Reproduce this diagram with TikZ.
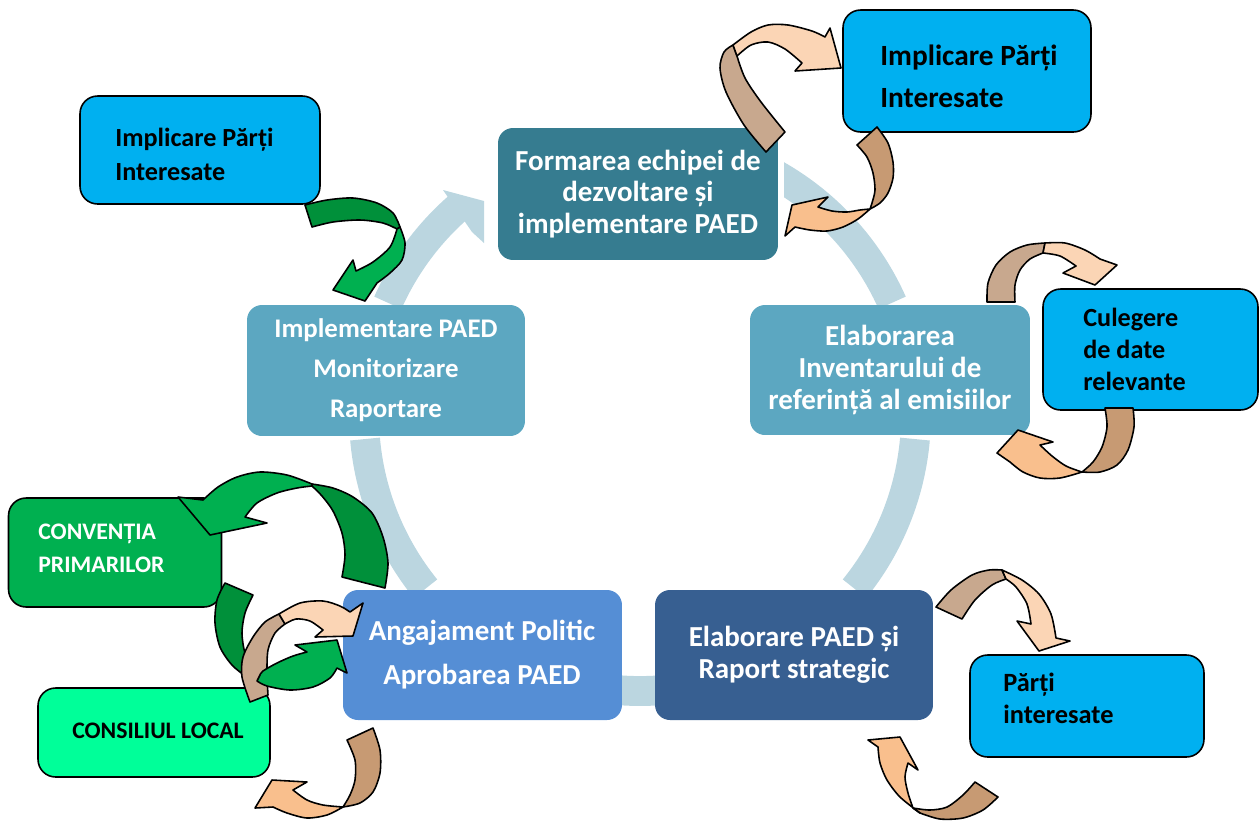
\documentclass[tikz,border=0pt]{standalone}
\usepackage{fontspec}
\setmainfont{Carlito}
\definecolor{ringc}{HTML}{BBD6E0}
\definecolor{cForm}{HTML}{367C90}
\definecolor{cInv}{HTML}{5CA7C1}
\definecolor{cPAED}{HTML}{375F91}
\definecolor{cAng}{HTML}{558ED5}
\definecolor{cSky}{HTML}{00B0F0}
\definecolor{cConv}{HTML}{00B050}
\definecolor{cCons}{HTML}{00FF99}
\definecolor{tanB}{HTML}{C8A88E}
\definecolor{peachF}{HTML}{FBD5B5}
\definecolor{brownB}{HTML}{C79A73}
\definecolor{orangeF}{HTML}{F9BF8D}
\definecolor{gDark}{HTML}{00903A}
\definecolor{gLight}{HTML}{00B050}
\tikzset{
  mbox/.style={rounded corners=8.5pt, inner sep=0pt, draw=none},
  sbox/.style={rounded corners=10pt, inner sep=0pt, draw=black, line width=0.9pt},
  mtext/.style={inner sep=0pt, text=white, align=center},
  stext/.style={inner sep=0pt, text=black, align=left, anchor=west},
  ringseg/.style={draw=ringc, line width=17pt},
  arrline/.style={draw=black, line width=0.9pt, line join=round},
}
\newcommand{\fs}[2]{\fontsize{#1pt}{#2pt}\selectfont\bfseries}
\begin{document}
\begin{tikzpicture}[x=0.02cm, y=-0.02cm]
\useasboundingbox (0,0) rectangle (1259,823);
% ---- ring ----
\coordinate (cc) at (640,415);
\draw[ringseg] (cc) ++(-156:276) arc[start angle=-156, end angle=-131, radius=276];
\fill[ringc] (443,190) -- (484,201) -- (484,243) -- (472,232) -- cycle;
\begin{scope}
\clip (784,0) rectangle (1259,823);
\draw[ringseg] (cc) ++(-66:276) arc[start angle=-66, end angle=-24, radius=276];
\end{scope}
\draw[ringseg] (cc) ++(5:276) arc[start angle=5, end angle=39, radius=276];
\draw[ringseg] (cc) ++(80:276) arc[start angle=80, end angle=100, radius=276];
\draw[ringseg] (cc) ++(141:276) arc[start angle=141, end angle=175, radius=276];
% ---- main boxes ----
\node[mbox, fill=cForm, minimum width=5.6cm, minimum height=2.64cm] (form) at (638,194) {};
\node[mbox, fill=cInv, minimum width=5.6cm, minimum height=2.6cm] (inv) at (890,370) {};
\node[mbox, fill=cPAED, minimum width=5.56cm, minimum height=2.6cm] (paed) at (794,655) {};
\node[mbox, fill=cAng, minimum width=5.58cm, minimum height=2.6cm] (ang) at (482.5,655) {};
\node[mbox, fill=cInv, minimum width=5.56cm, minimum height=2.62cm] (impl) at (386,370.5) {};
\node[mtext, font=\fs{16.5}{18}] (formT) at (638,194) {Formarea echipei de\\dezvoltare și\\implementare PAED};
\node[mtext, font=\fs{16.5}{18}] (invT) at (890,370) {Elaborarea\\Inventarului de\\referință al emisiilor};
\node[mtext, font=\fs{15.3}{22.7}] (implT) at (386,370) {Implementare PAED\\Monitorizare\\Raportare};
\node[mtext, font=\fs{16.5}{18}] (paedT) at (794,655) {Elaborare PAED și\\Raport strategic};
\node[mtext, font=\fs{16.5}{25}] (angT) at (482,655) {Angajament Politic\\Aprobarea PAED};
% ---- side boxes ----
\node[sbox, fill=cSky, minimum width=4.96cm, minimum height=2.44cm] (itr) at (967,71) {};
\node[sbox, fill=cSky, minimum width=4.8cm, minimum height=2.16cm] (itl) at (200,150) {};
\node[sbox, fill=cSky, minimum width=4.3cm, minimum height=2.42cm] (cul) at (1150.5,349.5) {};
\node[sbox, fill=cSky, minimum width=4.68cm, minimum height=2.04cm] (part) at (1087,706) {};
\node[sbox, fill=cConv, minimum width=4.26cm, minimum height=2.18cm] (conv) at (115,552.5) {};
\node[sbox, fill=cCons, minimum width=4.64cm, minimum height=1.78cm] (cons) at (154,732.5) {};
\node[stext, font=\fs{16.7}{23.8}] (itrT) at (880,76) {Implicare Părți\\Interesate};
\node[stext, font=\fs{14.9}{19.8}] (itlT) at (115,154.5) {Implicare Părți\\Interesate};
\node[stext, font=\fs{14.9}{18.4}] (culT) at (1083,349.5) {Culegere\\de date\\relevante};
\node[stext, font=\fs{15}{18}] (partT) at (1003,698.5) {Părți\\interesate};
\node[stext, font=\fs{13.5}{18.7}, text=white] (convT) at (38,548.5) {CONVENȚIA\\PRIMARILOR};
\node[mtext, font=\fs{13.5}{16}, text=black] (consT) at (158,731) {CONSILIUL LOCAL};
% ---- curved arrows ----
% A1
\filldraw[arrline, fill=tanB] (766,152) -- plot[smooth] coordinates {(766,152) (744,125) (726,92) (720,68) (724,52) (733,45)} -- plot[smooth] coordinates {(737,56) (745,78) (761,102) (785,132)} -- cycle;
\filldraw[arrline, fill=peachF] (733,45) -- plot[smooth] coordinates {(733,45) (751,32) (768,25) (788,25) (812,31) (825,37)} -- (830,28) -- (841,68) -- (795,71) -- (802,63) -- plot[smooth] coordinates {(802,63) (785,49) (768,42) (751,45) (737,56)} -- cycle;
% A2
\filldraw[arrline, fill=brownB] (857,145) -- plot[smooth] coordinates {(857,145) (867,157) (873,173) (875,190) (872,203) (870,209)} -- plot[smooth] coordinates {(870,209) (880,203) (888,193) (893,178) (893,162) (888,143) (877,127)} -- cycle;
\filldraw[arrline, fill=orangeF] (870,209) -- plot[smooth] coordinates {(870,209) (858,219) (843,227) (827,231) (810,230) (795,227)} -- (785,236) -- (792,205) -- (828,197) -- (818,207) -- plot[smooth] coordinates {(818,207) (832,211) (847,212) (860,210) (870,209)} -- cycle;
% A3
\filldraw[arrline, fill=tanB] (1015,302) -- (987,302) -- plot[smooth] coordinates {(987,302) (988,283) (996,265) (1010,252) (1027,245) (1045,243)} -- plot[smooth] coordinates {(1043,253) (1030,259) (1020,270) (1015,285) (1015,302)} -- cycle;
\filldraw[arrline, fill=peachF] (1045,243) -- plot[smooth] coordinates {(1045,243) (1065,243) (1085,250) (1100,259)} -- (1117,265) -- (1095,285) -- (1063,273) -- (1076,266) -- plot[smooth] coordinates {(1076,266) (1060,256) (1043,253)} -- cycle;
% A4
\filldraw[arrline, fill=brownB] (1105,408) -- (1133,408) -- plot[smooth] coordinates {(1133,408) (1134,427) (1128,450) (1117,465) (1100,472) (1082,472)} -- plot[smooth] coordinates {(1082,472) (1093,462) (1102,447) (1107,427) (1105,408)} -- cycle;
\filldraw[arrline, fill=orangeF] (1082,472) -- plot[smooth] coordinates {(1082,472) (1060,478) (1040,478) (1023,472) (1010,462)} -- (997,453) -- (1018,430) -- (1053,442) -- (1040,445) -- plot[smooth] coordinates {(1040,445) (1052,456) (1066,466) (1082,472)} -- cycle;
% A5
\filldraw[arrline, fill=tanB] (936,607) -- plot[smooth] coordinates {(936,607) (951,590) (972,575) (989,570) (1002,570)} -- (1006,579) -- plot[smooth] coordinates {(1006,579) (992,585) (975,600) (962,619)} -- cycle;
\filldraw[arrline, fill=peachF] (1002,570) -- plot[smooth] coordinates {(1002,570) (1022,580) (1039,594) (1051,614) (1056,638)} -- (1070,641) -- (1039,651) -- (1017,621) -- (1031,624) -- plot[smooth] coordinates {(1031,624) (1027,604) (1016,587) (1006,579)} -- cycle;
% A6
\filldraw[arrline, fill=brownB] (975,782) -- (998,797) -- plot[smooth] coordinates {(998,797) (983,810) (963,818) (940,819) (920,813)} -- (913,808) -- plot[smooth] coordinates {(913,808) (930,810) (947,807) (963,795) (975,782)} -- cycle;
\filldraw[arrline, fill=orangeF] (920,813) -- plot[smooth] coordinates {(920,813) (900,797) (887,780) (880,763) (878,747)} -- (868,740) -- (900,737) -- (918,770) -- (908,763) -- plot[smooth] coordinates {(908,763) (905,777) (908,793) (913,808)} -- cycle;
% A7
\filldraw[arrline, fill=brownB] (347,740) -- (373,728) -- plot[smooth] coordinates {(373,728) (380,750) (380,773) (373,792) (360,803) (343,807)} -- plot[smooth] coordinates {(343,807) (350,795) (355,780) (355,760) (347,740)} -- cycle;
\filldraw[arrline, fill=orangeF] (343,807) -- plot[smooth] coordinates {(343,807) (327,815) (307,818) (287,813) (273,807)} -- (255,808) -- (272,780) -- (307,782) -- (293,790) -- plot[smooth] coordinates {(293,790) (307,800) (323,805) (343,807)} -- cycle;
% A9 big green
\filldraw[arrline, fill=gDark] (342,577) -- (385,588) -- plot[smooth] coordinates {(385,588) (388,563) (383,537) (372,513) (353,497) (333,488) (312,484)} -- plot[smooth] coordinates {(312,486) (322,496) (333,511) (342,533) (345,555) (342,577)} -- cycle;
\filldraw[arrline, fill=gLight] (312,484) -- plot[smooth] coordinates {(312,484) (287,475) (260,472) (237,477) (218,487) (203,500)} -- (178,497) -- (210,535) -- (267,523) -- (245,517) -- plot[smooth] coordinates {(245,517) (257,503) (277,493) (297,488) (312,486)} -- cycle;
% A10 back, A8 back, A10 front, A8 front
\filldraw[arrline, fill=gDark] (225,583) -- (253,595) -- plot[smooth] coordinates {(253,595) (245,613) (242,633) (245,653) (253,668) (260,675)} -- (257,681) -- plot[smooth] coordinates {(257,681) (247,677) (232,665) (220,647) (215,623) (217,600) (225,583)} -- cycle;
\filldraw[arrline, fill=tanB] (250,702) -- (268,695) -- plot[smooth] coordinates {(268,695) (267,673) (268,650) (275,633) (285,624)} -- (279,614) -- plot[smooth] coordinates {(279,614) (265,622) (253,637) (243,657) (242,677) (250,702)} -- cycle;
\filldraw[arrline, fill=gLight] (257,681) -- plot[smooth] coordinates {(257,681) (267,686) (290,690) (313,687) (330,678) (337,668)} -- (347,673) -- (337,640) -- (295,645) -- (307,652) -- plot[smooth] coordinates {(307,652) (293,656) (277,663) (263,671) (260,675)} -- cycle;
\filldraw[arrline, fill=peachF] (279,614) -- plot[smooth] coordinates {(279,614) (300,603) (323,601) (340,606) (350,612)} -- (363,603) -- (353,636) -- (315,637) -- (323,630) -- plot[smooth] coordinates {(323,630) (310,621) (296,619) (285,624)} -- cycle;
% A11
\filldraw[arrline, fill=gDark] (305,205) -- plot[smooth] coordinates {(305,205) (327,200) (353,198) (377,203) (393,213) (400,227)} -- (397,229) -- plot[smooth] coordinates {(397,229) (383,223) (360,220) (333,222) (312,227)} -- cycle;
\filldraw[arrline, fill=gLight] (400,227) -- plot[smooth] coordinates {(400,227) (405,243) (402,260) (390,273) (377,283)} -- (365,301) -- (333,290) -- (353,260) -- (356,271) -- plot[smooth] coordinates {(356,271) (373,262) (390,247) (397,229)} -- cycle;
\end{tikzpicture}
\end{document}
